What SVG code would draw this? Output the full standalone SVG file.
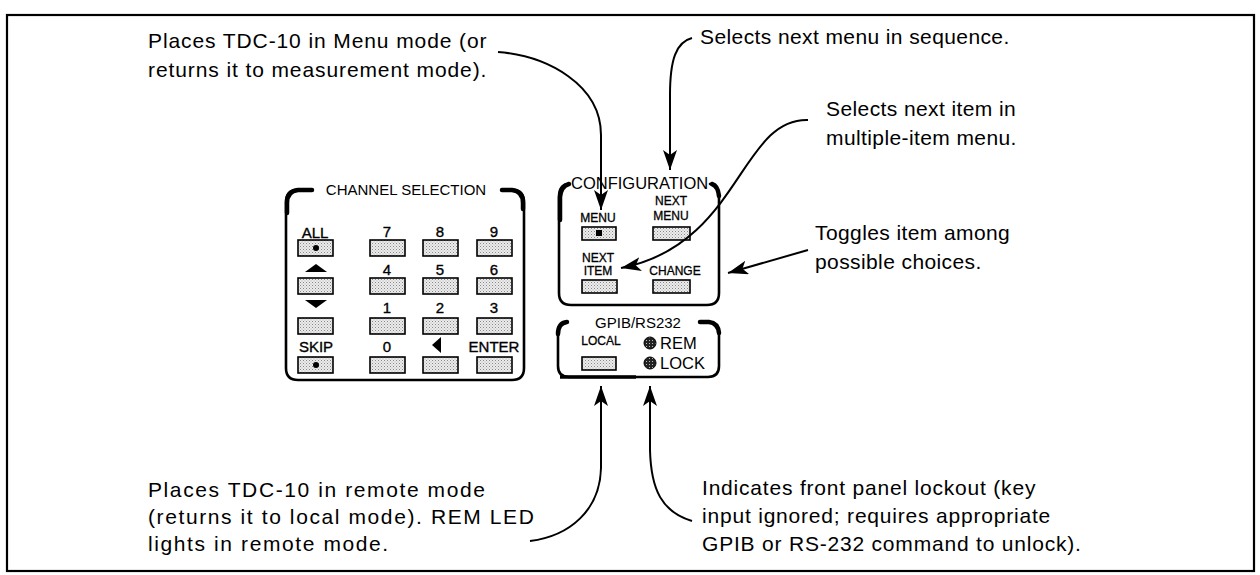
<svg xmlns="http://www.w3.org/2000/svg" width="1260" height="575" viewBox="0 0 1260 575">
<style>
.t{font-family:"Liberation Sans",Arial,sans-serif;font-size:21px;fill:#000}
.tl{letter-spacing:0.9px}
.tr{letter-spacing:0.4px}
.bl{letter-spacing:1.6px}
.brt{letter-spacing:0.8px}
.k{font-family:"Liberation Sans",Arial,sans-serif;font-size:15px;fill:#000;stroke:#000;stroke-width:0.35;text-anchor:middle}
.s{font-family:"Liberation Sans",Arial,sans-serif;font-size:12px;fill:#000;stroke:#000;stroke-width:0.3;text-anchor:middle}
.ttl{font-family:"Liberation Sans",Arial,sans-serif;fill:#000}
.btn{fill:url(#stip);stroke:#000;stroke-width:1.6}
.panel{fill:none;stroke:#000;stroke-width:2.6;stroke-linecap:round;stroke-linejoin:round}
.br{fill:none;stroke:#000;stroke-width:4.5;stroke-linecap:round}
.con{fill:none;stroke:#000;stroke-width:2;marker-end:url(#ah)}
</style>
<defs>
<pattern id="stip" width="3" height="3" patternUnits="userSpaceOnUse">
<rect width="3" height="3" fill="#ececec"/>
<rect x="0" y="0" width="1" height="1" fill="#888"/>
<rect x="1.5" y="1.5" width="1" height="1" fill="#aaa"/>
</pattern>
<pattern id="led" width="3" height="3" patternUnits="userSpaceOnUse">
<rect width="3" height="3" fill="#222"/>
<rect x="1" y="1" width="1" height="1" fill="#bbb"/>
</pattern>
<marker id="ah" markerUnits="userSpaceOnUse" markerWidth="24" markerHeight="16" refX="20" refY="7" orient="auto">
<path d="M0,0 L20,7 L0,14 L5,7 Z" fill="#000"/>
</marker>
</defs>

<rect x="7" y="15" width="1247" height="556" fill="none" stroke="#000" stroke-width="2.2"/>

<g id="channel-selection">
<path class="panel" d="M305,190 L298,190 Q286,190 286,202 L286,368 Q286,380 298,380 L512,380 Q524,380 524,368 L524,202 Q524,190 512,190 L505,190"/>
<path class="br" d="M312,190 L298,190 Q287,191 287,203 L287,213"/>
<path class="br" d="M502,190 L512,190 Q523,191 523,203 L523,209"/>
<text class="ttl" x="406" y="195" font-size="15" text-anchor="middle">CHANNEL SELECTION</text>
<text class="k" x="315" y="238">ALL</text>
<text class="k" x="387" y="237">7</text>
<text class="k" x="440" y="237">8</text>
<text class="k" x="494" y="237">9</text>
<rect class="btn" x="298" y="240" width="35" height="16"/>
<rect class="btn" x="370" y="240" width="35" height="16"/>
<rect class="btn" x="423" y="240" width="35" height="16"/>
<rect class="btn" x="477" y="240" width="35" height="16"/>
<circle cx="316" cy="248" r="3" fill="#000"/>
<polygon points="305,272 316,264 327,272" fill="#000"/>
<text class="k" x="387" y="275">4</text>
<text class="k" x="440" y="275">5</text>
<text class="k" x="494" y="275">6</text>
<rect class="btn" x="298" y="278" width="35" height="16"/>
<rect class="btn" x="370" y="278" width="35" height="16"/>
<rect class="btn" x="423" y="278" width="35" height="16"/>
<rect class="btn" x="477" y="278" width="35" height="16"/>
<polygon points="305,300 327,300 316,308" fill="#000"/>
<text class="k" x="387" y="313">1</text>
<text class="k" x="440" y="313">2</text>
<text class="k" x="494" y="313">3</text>
<rect class="btn" x="298" y="318" width="35" height="16"/>
<rect class="btn" x="370" y="318" width="35" height="16"/>
<rect class="btn" x="423" y="318" width="35" height="16"/>
<rect class="btn" x="477" y="318" width="35" height="16"/>
<text class="k" x="316" y="352">SKIP</text>
<text class="k" x="387" y="352">0</text>
<polygon points="432,345 441,337 441,353" fill="#000"/>
<text class="k" x="494" y="352">ENTER</text>
<rect class="btn" x="298" y="357" width="35" height="16"/>
<rect class="btn" x="370" y="357" width="35" height="16"/>
<rect class="btn" x="423" y="357" width="35" height="16"/>
<rect class="btn" x="477" y="357" width="35" height="16"/>
<circle cx="316" cy="365" r="3" fill="#000"/>
</g>

<g id="configuration">
<path class="panel" d="M568,184 Q559,185 559,197 L559,293 Q559,305 571,305 L707,305 Q719,305 719,293 L719,197 Q719,185 710,184"/>
<path class="br" d="M560,220 L560,197 Q561,186 569,184"/>
<path class="br" d="M712,184 Q718,186 719,196"/>
<text class="ttl" x="571" y="189" font-size="16.5">CONFIGURATION</text>
<text class="s" x="598" y="222">MENU</text>
<text class="s" x="671" y="205">NEXT</text>
<text class="s" x="671" y="220">MENU</text>
<rect class="btn" x="582" y="227" width="34" height="13"/>
<rect x="596" y="230" width="6" height="6" fill="#000"/>
<rect class="btn" x="653" y="227" width="37" height="13"/>
<text class="s" x="598" y="262">NEXT</text>
<text class="s" x="598" y="275">ITEM</text>
<text class="s" x="675" y="275">CHANGE</text>
<rect class="btn" x="582" y="280" width="35" height="13"/>
<rect class="btn" x="653" y="280" width="37" height="13"/>
</g>

<g id="gpib-rs232">
<path class="panel" d="M566,322 Q558,323 558,333 L558,366 Q558,377 569,377 L708,377 Q719,377 719,366 L719,333 Q719,323 710,322"/>
<path class="br" d="M558,334 Q558,323 567,322"/>
<path class="br" d="M700,322 L709,322 Q718,323 719,333"/>
<path d="M560,377 L636,377" stroke="#000" stroke-width="3.5"/>
<text class="ttl" x="638" y="328" font-size="15" text-anchor="middle">GPIB/RS232</text>
<text class="s" x="601" y="345" font-size="12.5">LOCAL</text>
<rect class="btn" x="582" y="357" width="34" height="13"/>
<circle cx="650" cy="343" r="6" fill="url(#led)" stroke="#000" stroke-width="1"/>
<text class="ttl" x="660" y="349" font-size="16.5">REM</text>
<circle cx="650" cy="363" r="6" fill="url(#led)" stroke="#000" stroke-width="1"/>
<text class="ttl" x="660" y="369" font-size="16.5">LOCK</text>
</g>

<g id="annotations">
<text class="t tl" x="148" y="48">Places TDC-10 in Menu mode (or</text>
<text class="t tl" x="148" y="77">returns it to measurement mode).</text>
<text class="t tr" x="700" y="44">Selects next menu in sequence.</text>
<text class="t tr" x="826" y="116">Selects next item in</text>
<text class="t tr" x="826" y="145">multiple-item menu.</text>
<text class="t tr" x="815" y="240">Toggles item among</text>
<text class="t tr" x="815" y="269">possible choices.</text>
<text class="t bl" x="148" y="497">Places TDC-10 in remote mode</text>
<text class="t bl" x="148" y="524">(returns it to local mode). REM LED</text>
<text class="t bl" x="148" y="551">lights in remote mode.</text>
<text class="t brt" x="702" y="495">Indicates front panel lockout (key</text>
<text class="t brt" x="702" y="523">input ignored; requires appropriate</text>
<text class="t brt" x="702" y="551">GPIB or RS-232 command to unlock).</text>
</g>

<g id="connectors">
<path class="con" d="M498,52 C548,56 601,85 601,135 L601,210"/>
<path class="con" d="M692,38 C676,42 670,60 670,95 L670,170"/>
<path class="con" d="M808,120 C740,118 740,245 621,268"/>
<path class="con" d="M808,250 L728,273"/>
<path class="con" d="M530,541 C570,536 600,510 601,468 L601,386"/>
<path class="con" d="M692,521 C662,512 651,490 650,450 L650,386"/>
</g>
</svg>
